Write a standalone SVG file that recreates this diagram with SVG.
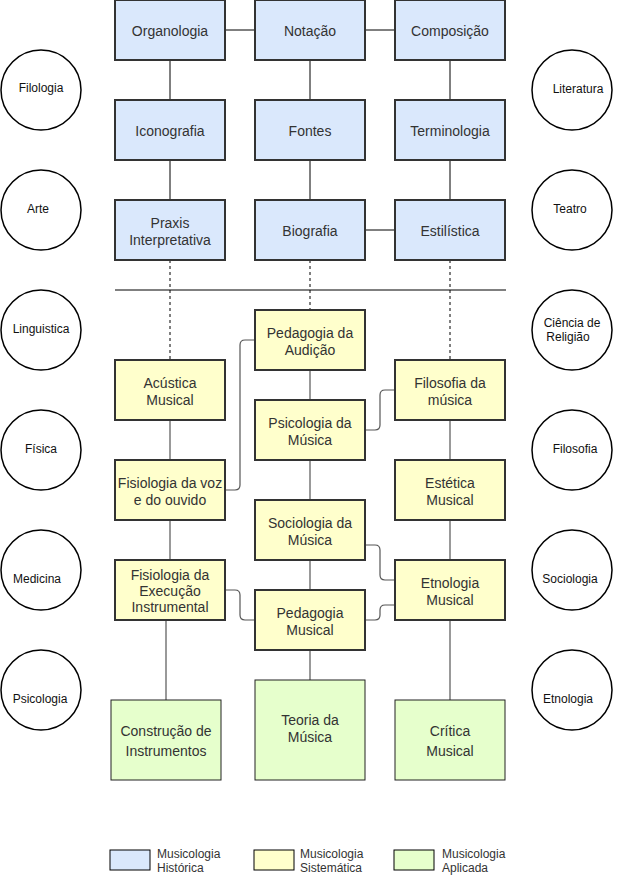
<svg xmlns="http://www.w3.org/2000/svg" width="642" height="877" viewBox="0 0 642 877">
<style>
text{font-family:"Liberation Sans",Arial,sans-serif;fill:#333;text-anchor:middle}
.t{font-size:14px}
.c{font-size:12px;fill:#111}
.lg{font-size:12px;text-anchor:start;fill:#333}
.b{fill:#dae8fc;stroke:#333;stroke-width:2}
.y{fill:#ffffcc;stroke:#333;stroke-width:2}
.g{fill:#e6ffcc;stroke:#222;stroke-width:1}
.circ{fill:#fff;stroke:#000;stroke-width:1.5}
.k{stroke:#000;stroke-width:1;fill:none}
.d{stroke:#000;stroke-width:1;fill:none;stroke-dasharray:3 3}
.s{stroke:#555;stroke-width:1.2;fill:none}
</style>
<rect width="642" height="877" fill="#fff"/>
<g id="connectors">
<line class="k" x1="225" y1="30" x2="255" y2="30"/>
<line class="k" x1="365" y1="30" x2="395" y2="30"/>
<line class="k" x1="170" y1="60" x2="170" y2="100"/>
<line class="k" x1="310" y1="60" x2="310" y2="100"/>
<line class="k" x1="450" y1="60" x2="450" y2="100"/>
<line class="k" x1="170" y1="160" x2="170" y2="200"/>
<line class="k" x1="310" y1="160" x2="310" y2="200"/>
<line class="k" x1="450" y1="160" x2="450" y2="200"/>
<line class="k" x1="365" y1="230" x2="395" y2="230"/>
<line class="k" x1="115" y1="290" x2="506" y2="290"/>
<line class="d" x1="170" y1="260" x2="170" y2="360"/>
<line class="d" x1="310" y1="260" x2="310" y2="310"/>
<line class="d" x1="450" y1="260" x2="450" y2="360"/>
<line class="s" x1="170" y1="420" x2="170" y2="460"/>
<line class="s" x1="170" y1="520" x2="170" y2="560"/>
<line class="s" x1="166" y1="620" x2="166" y2="700"/>
<line class="s" x1="310" y1="370" x2="310" y2="400"/>
<line class="s" x1="310" y1="460" x2="310" y2="500"/>
<line class="s" x1="310" y1="560" x2="310" y2="590"/>
<line class="s" x1="310" y1="650" x2="310" y2="680"/>
<line class="s" x1="450" y1="420" x2="450" y2="460"/>
<line class="s" x1="450" y1="520" x2="450" y2="560"/>
<line class="s" x1="450" y1="620" x2="450" y2="700"/>
<path class="s" d="M225 490 H235 Q240 490 240 485 V345 Q240 340 245 340 H255"/>
<path class="s" d="M365 430 H375 Q380 430 380 425 V395 Q380 390 385 390 H395"/>
<path class="s" d="M365 545 H375 Q380 545 380 550 V575 Q380 580 385 580 H395"/>
<path class="s" d="M225 590 H235 Q240 590 240 595 V615 Q240 620 245 620 H255"/>
<path class="s" d="M365 620 H375 Q380 620 380 615 V610 Q380 605 385 605 H395"/>
</g>
<g id="n-organologia"><rect class="b" x="115" y="0" width="110" height="60"/><text class="t" x="170" y="36">Organologia</text></g>
<g id="n-notacao"><rect class="b" x="255" y="0" width="110" height="60"/><text class="t" x="310" y="36">Notação</text></g>
<g id="n-composicao"><rect class="b" x="395" y="0" width="110" height="60"/><text class="t" x="450" y="36">Composição</text></g>
<g id="n-iconografia"><rect class="b" x="115" y="100" width="110" height="60"/><text class="t" x="170" y="136">Iconografia</text></g>
<g id="n-fontes"><rect class="b" x="255" y="100" width="110" height="60"/><text class="t" x="310" y="136">Fontes</text></g>
<g id="n-terminologia"><rect class="b" x="395" y="100" width="110" height="60"/><text class="t" x="450" y="136">Terminologia</text></g>
<g id="n-praxis"><rect class="b" x="115" y="200" width="110" height="60"/><text class="t" x="170" y="228">Praxis</text><text class="t" x="170" y="245">Interpretativa</text></g>
<g id="n-biografia"><rect class="b" x="255" y="200" width="110" height="60"/><text class="t" x="310" y="236">Biografia</text></g>
<g id="n-estilistica"><rect class="b" x="395" y="200" width="110" height="60"/><text class="t" x="450" y="236">Estilística</text></g>
<g id="n-pedagogia-audicao"><rect class="y" x="255" y="310" width="110" height="60"/><text class="t" x="310" y="338">Pedagogia da</text><text class="t" x="310" y="355">Audição</text></g>
<g id="n-acustica"><rect class="y" x="115" y="360" width="110" height="60"/><text class="t" x="170" y="388">Acústica</text><text class="t" x="170" y="405">Musical</text></g>
<g id="n-filosofia-musica"><rect class="y" x="395" y="360" width="110" height="60"/><text class="t" x="450" y="388">Filosofia da</text><text class="t" x="450" y="405">música</text></g>
<g id="n-psicologia-musica"><rect class="y" x="255" y="400" width="110" height="60"/><text class="t" x="310" y="428">Psicologia da</text><text class="t" x="310" y="445">Música</text></g>
<g id="n-fisiologia-voz"><rect class="y" x="115" y="460" width="110" height="60"/><text class="t" x="170" y="488">Fisiologia da voz</text><text class="t" x="170" y="505">e do ouvido</text></g>
<g id="n-estetica"><rect class="y" x="395" y="460" width="110" height="60"/><text class="t" x="450" y="488">Estética</text><text class="t" x="450" y="505">Musical</text></g>
<g id="n-sociologia-musica"><rect class="y" x="255" y="500" width="110" height="60"/><text class="t" x="310" y="528">Sociologia da</text><text class="t" x="310" y="545">Música</text></g>
<g id="n-fisiologia-execucao"><rect class="y" x="115" y="560" width="110" height="60"/><text class="t" x="170" y="580">Fisiologia da</text><text class="t" x="170" y="596">Execução</text><text class="t" x="170" y="612">Instrumental</text></g>
<g id="n-etnologia-musical"><rect class="y" x="395" y="560" width="110" height="60"/><text class="t" x="450" y="588">Etnologia</text><text class="t" x="450" y="605">Musical</text></g>
<g id="n-pedagogia-musical"><rect class="y" x="255" y="590" width="110" height="60"/><text class="t" x="310" y="618">Pedagogia</text><text class="t" x="310" y="635">Musical</text></g>
<g id="n-construcao"><rect class="g" x="111" y="700" width="110" height="80"/><text class="t" x="166" y="736">Construção de</text><text class="t" x="166" y="756">Instrumentos</text></g>
<g id="n-teoria"><rect class="g" x="255" y="680" width="110" height="100"/><text class="t" x="310" y="725">Teoria da</text><text class="t" x="310" y="742">Música</text></g>
<g id="n-critica"><rect class="g" x="395" y="700" width="110" height="80"/><text class="t" x="450" y="736">Crítica</text><text class="t" x="450" y="756">Musical</text></g>
<g id="c-filologia"><circle class="circ" cx="41" cy="90" r="40"/><text class="c" x="41" y="92">Filologia</text></g>
<g id="c-arte"><circle class="circ" cx="41" cy="210" r="40"/><text class="c" x="38" y="213">Arte</text></g>
<g id="c-linguistica"><circle class="circ" cx="41" cy="330" r="40"/><text class="c" x="41" y="333">Linguistica</text></g>
<g id="c-fisica"><circle class="circ" cx="41" cy="450" r="40"/><text class="c" x="41" y="453">Física</text></g>
<g id="c-medicina"><circle class="circ" cx="41" cy="570" r="40"/><text class="c" x="37" y="583">Medicina</text></g>
<g id="c-psicologia"><circle class="circ" cx="41" cy="690" r="40"/><text class="c" x="40" y="703">Psicologia</text></g>
<g id="c-literatura"><circle class="circ" cx="572" cy="90" r="40"/><text class="c" x="578" y="93">Literatura</text></g>
<g id="c-teatro"><circle class="circ" cx="572" cy="210" r="40"/><text class="c" x="570" y="213">Teatro</text></g>
<g id="c-ciencia-religiao"><circle class="circ" cx="572" cy="330" r="40"/><text class="c" x="572" y="327">Ciência de</text><text class="c" x="568" y="341">Religião</text></g>
<g id="c-filosofia"><circle class="circ" cx="572" cy="450" r="40"/><text class="c" x="575" y="453">Filosofia</text></g>
<g id="c-sociologia"><circle class="circ" cx="572" cy="570" r="40"/><text class="c" x="570" y="583">Sociologia</text></g>
<g id="c-etnologia"><circle class="circ" cx="572" cy="690" r="40"/><text class="c" x="568" y="703">Etnologia</text></g>
<g id="legend">
<rect x="110" y="850" width="40" height="20" fill="#dae8fc" stroke="#000"/>
<text class="lg" x="157" y="858">Musicologia</text><text class="lg" x="157" y="872">Histórica</text>
<rect x="254" y="850" width="40" height="20" fill="#ffffcc" stroke="#000"/>
<text class="lg" x="300" y="858">Musicologia</text><text class="lg" x="300" y="872">Sistemática</text>
<rect x="394" y="850" width="40" height="20" fill="#e6ffcc" stroke="#000"/>
<text class="lg" x="442" y="858">Musicologia</text><text class="lg" x="442" y="872">Aplicada</text>
</g>
</svg>
